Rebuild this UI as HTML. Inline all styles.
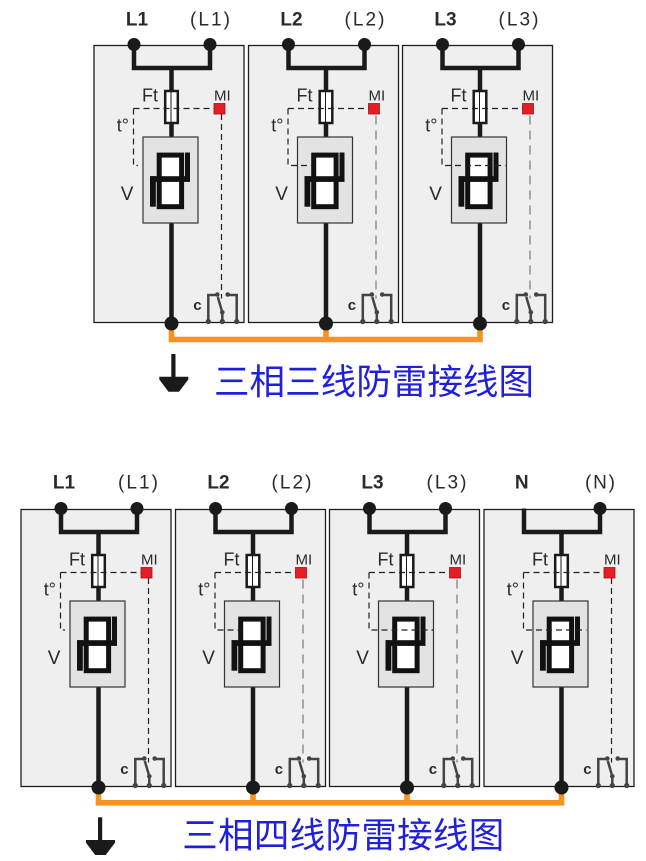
<!DOCTYPE html>
<html>
<head>
<meta charset="utf-8">
<style>
html,body{margin:0;padding:0;background:#ffffff;}
svg{display:block;}
.lbl{font-family:"Liberation Sans",Arial,sans-serif;fill:#2a2a2a;}
.cjk{font-family:"Liberation Sans","Noto Sans CJK SC","WenQuanYi Zen Hei",sans-serif;fill:#1f1fdc;}
</style>
</head>
<body>
<svg width="646" height="861" viewBox="0 0 646 861" xmlns="http://www.w3.org/2000/svg">
<defs>
  <g id="body">
    <rect x="0" y="0" width="150" height="277" fill="#efefef" stroke="#1e1e1e" stroke-width="1.3"/>
    <!-- top bar -->
    <path d="M40,-1 V22.5 H116 V-1" fill="none" stroke="#1a1a1a" stroke-width="4.5" stroke-linejoin="miter"/>
    <!-- center wire -->
    <path d="M77.5,22.5 V91.5 M77.5,177.5 V278" fill="none" stroke="#1a1a1a" stroke-width="4.5"/>
    <!-- fuse -->
    <rect x="71.2" y="45.5" width="12.6" height="32" fill="#ffffff" stroke="#1a1a1a" stroke-width="2.5"/>
    <line x1="77" y1="46" x2="77" y2="77" stroke="#1a1a1a" stroke-width="1"/>
    <!-- varistor -->
    <rect x="49" y="91.5" width="55" height="86" fill="#e3e3e3" stroke="#333" stroke-width="1.2"/>
    <rect x="65.2" y="109.6" width="22.4" height="51.6" fill="#ffffff" stroke="#111" stroke-width="5"/>
    <rect x="56" y="130.7" width="40" height="5.7" fill="#111"/>
    <rect x="91" y="107" width="5" height="29" fill="#111"/>
    <rect x="56" y="130.7" width="5.8" height="30.5" fill="#111"/>
    <!-- bottom dot -->
    <circle cx="77.5" cy="278" r="7" fill="#1a1a1a"/>
    <!-- MI square -->
    <rect x="120" y="58" width="11" height="10.5" fill="#e31e24" stroke="#a31418" stroke-width="0.8"/>
    <!-- switch -->
    <path d="M114.3,276 V249.5 H121.5 M142.7,276 V249.5 H135.5 M128.3,276 V266.8 L123.8,251.5" fill="none" stroke="#444" stroke-width="2.5"/>
    <circle cx="123.3" cy="249" r="2.3" fill="#444"/>
    <circle cx="133.7" cy="249" r="2.3" fill="#444"/>
    <circle cx="128.3" cy="266.8" r="2.3" fill="#444"/>
    <circle cx="114.3" cy="276" r="2.6" fill="#444"/>
    <circle cx="128.3" cy="276" r="2.6" fill="#444"/>
    <circle cx="142.7" cy="276" r="2.6" fill="#444"/>
    <!-- right dot -->
    <circle cx="116" cy="-1" r="6.5" fill="#1a1a1a"/>
  </g>
</defs>

<!-- ORANGE LINES (behind) -->
<path d="M171.5,325 V339.5 H480 V325 M326,325 V339.5" fill="none" stroke="#f7941d" stroke-width="5.6" stroke-linejoin="miter"/>
<path d="M98.5,789 V802.8 H561.5 V789 M253,789 V802.8 M407,789 V802.8" fill="none" stroke="#f7941d" stroke-width="5.6" stroke-linejoin="miter"/>

<!-- ===== TOP ROW ===== -->
<!-- module 1 -->
<g transform="translate(94,45.5)">
  <use href="#body"/>
  <circle cx="40" cy="-1" r="6.5" fill="#1a1a1a"/>
  <path d="M39.5,63 H120 M39.5,63 V120 H44" fill="none" stroke="#222" stroke-width="1.2" stroke-dasharray="6 4"/>
  <path d="M127.5,68.5 V253" fill="none" stroke="#222" stroke-width="1.2" stroke-dasharray="6 4"/>
  <text class="lbl" x="48" y="56" font-size="18">Ft</text>
  <text class="lbl" x="120" y="55" font-size="15">MI</text>
  <text class="lbl" x="22.7" y="86" font-size="18">t°</text>
  <text class="lbl" x="26.7" y="154.5" font-size="19">V</text>
  <text class="lbl" x="99.3" y="264.5" font-size="15" font-weight="bold">c</text>
</g>
<!-- module 2 -->
<g transform="translate(248.5,45.5)">
  <use href="#body"/>
  <circle cx="40" cy="-1" r="6.5" fill="#1a1a1a"/>
  <path d="M39.5,63 H120 M39.5,63 V120 H64" fill="none" stroke="#222" stroke-width="1.2" stroke-dasharray="6 4"/>
  <path d="M127.5,70 V253" fill="none" stroke="#a0a0a0" stroke-width="1.8" stroke-dasharray="9 6"/>
  <text class="lbl" x="48" y="56" font-size="18">Ft</text>
  <text class="lbl" x="120" y="55" font-size="15">MI</text>
  <text class="lbl" x="22.7" y="86" font-size="18">t°</text>
  <text class="lbl" x="26.7" y="154.5" font-size="19">V</text>
  <text class="lbl" x="99.3" y="264.5" font-size="15" font-weight="bold">c</text>
</g>
<!-- module 3 -->
<g transform="translate(402.5,45.5)">
  <use href="#body"/>
  <circle cx="40" cy="-1" r="6.5" fill="#1a1a1a"/>
  <path d="M39.5,63 H120 M39.5,63 V120 H103" fill="none" stroke="#222" stroke-width="1.2" stroke-dasharray="6 4"/>
  <path d="M127.5,70 V253" fill="none" stroke="#a0a0a0" stroke-width="1.8" stroke-dasharray="9 6"/>
  <text class="lbl" x="48" y="56" font-size="18">Ft</text>
  <text class="lbl" x="120" y="55" font-size="15">MI</text>
  <text class="lbl" x="22.7" y="86" font-size="18">t°</text>
  <text class="lbl" x="26.7" y="154.5" font-size="19">V</text>
  <text class="lbl" x="99.3" y="264.5" font-size="15" font-weight="bold">c</text>
</g>

<!-- top labels -->
<text class="lbl" x="137" y="25.3" font-size="19" font-weight="bold" text-anchor="middle" fill="#222">L1</text>
<text class="lbl" x="190" y="25.3" font-size="19" textLength="40" lengthAdjust="spacing">(L1)</text>
<text class="lbl" x="291.5" y="25.3" font-size="19" font-weight="bold" text-anchor="middle">L2</text>
<text class="lbl" x="344.5" y="25.3" font-size="19" textLength="40" lengthAdjust="spacing">(L2)</text>
<text class="lbl" x="445.5" y="25.3" font-size="19" font-weight="bold" text-anchor="middle">L3</text>
<text class="lbl" x="498.5" y="25.3" font-size="19" textLength="40" lengthAdjust="spacing">(L3)</text>

<!-- top ground -->
<rect x="171.3" y="354" width="4.2" height="23" fill="#1a1a1a"/>
<polygon points="159.3,376.7 188.3,376.7 188.3,379.5 179,391.7 168.5,391.7 159.3,379.5" fill="#1a1a1a"/>
<text class="cjk" x="214" y="394" font-size="35.5" textLength="320" lengthAdjust="spacing">三相三线防雷接线图</text>

<!-- ===== BOTTOM ROW ===== -->
<g transform="translate(21,509.5)">
  <use href="#body"/>
  <circle cx="40" cy="-1" r="6.5" fill="#1a1a1a"/>
  <path d="M39.5,63 H120 M39.5,63 V120.5 H44" fill="none" stroke="#222" stroke-width="1.2" stroke-dasharray="6 4"/>
  <path d="M127.5,68.5 V253" fill="none" stroke="#222" stroke-width="1.2" stroke-dasharray="6 4"/>
  <text class="lbl" x="48" y="56" font-size="18">Ft</text>
  <text class="lbl" x="120" y="55" font-size="15">MI</text>
  <text class="lbl" x="22.7" y="86" font-size="18">t°</text>
  <text class="lbl" x="26.7" y="154.5" font-size="19">V</text>
  <text class="lbl" x="99.3" y="264.5" font-size="15" font-weight="bold">c</text>
</g>
<g transform="translate(175.5,509.5)">
  <use href="#body"/>
  <circle cx="40" cy="-1" r="6.5" fill="#1a1a1a"/>
  <path d="M39.5,63 H120 M39.5,63 V120.5 H66" fill="none" stroke="#222" stroke-width="1.2" stroke-dasharray="6 4"/>
  <path d="M127.5,70 V253" fill="none" stroke="#a0a0a0" stroke-width="1.8" stroke-dasharray="9 6"/>
  <text class="lbl" x="48" y="56" font-size="18">Ft</text>
  <text class="lbl" x="120" y="55" font-size="15">MI</text>
  <text class="lbl" x="22.7" y="86" font-size="18">t°</text>
  <text class="lbl" x="26.7" y="154.5" font-size="19">V</text>
  <text class="lbl" x="99.3" y="264.5" font-size="15" font-weight="bold">c</text>
</g>
<g transform="translate(329.5,509.5)">
  <use href="#body"/>
  <circle cx="40" cy="-1" r="6.5" fill="#1a1a1a"/>
  <path d="M39.5,63 H120 M39.5,63 V120.5 H104" fill="none" stroke="#222" stroke-width="1.2" stroke-dasharray="6 4"/>
  <path d="M127.5,70 V253" fill="none" stroke="#a0a0a0" stroke-width="1.8" stroke-dasharray="9 6"/>
  <text class="lbl" x="48" y="56" font-size="18">Ft</text>
  <text class="lbl" x="120" y="55" font-size="15">MI</text>
  <text class="lbl" x="22.7" y="86" font-size="18">t°</text>
  <text class="lbl" x="26.7" y="154.5" font-size="19">V</text>
  <text class="lbl" x="99.3" y="264.5" font-size="15" font-weight="bold">c</text>
</g>
<g transform="translate(484,509.5)">
  <use href="#body"/>
  <path d="M39.5,63 H120 M39.5,63 V120.5 H102.5" fill="none" stroke="#222" stroke-width="1.2" stroke-dasharray="6 4"/>
  <path d="M127.5,68.5 V253" fill="none" stroke="#222" stroke-width="1.2" stroke-dasharray="6 4"/>
  <text class="lbl" x="48" y="56" font-size="18">Ft</text>
  <text class="lbl" x="120" y="55" font-size="15">MI</text>
  <text class="lbl" x="22.7" y="86" font-size="18">t°</text>
  <text class="lbl" x="26.7" y="154.5" font-size="19">V</text>
  <text class="lbl" x="99.3" y="264.5" font-size="15" font-weight="bold">c</text>
</g>

<!-- bottom labels -->
<text class="lbl" x="64" y="488.5" font-size="19" font-weight="bold" text-anchor="middle" fill="#222">L1</text>
<text class="lbl" x="118" y="488.5" font-size="19" textLength="40" lengthAdjust="spacing">(L1)</text>
<text class="lbl" x="218.5" y="488.5" font-size="19" font-weight="bold" text-anchor="middle">L2</text>
<text class="lbl" x="271.5" y="488.5" font-size="19" textLength="40" lengthAdjust="spacing">(L2)</text>
<text class="lbl" x="372.5" y="488.5" font-size="19" font-weight="bold" text-anchor="middle">L3</text>
<text class="lbl" x="426.5" y="488.5" font-size="19" textLength="40" lengthAdjust="spacing">(L3)</text>
<text class="lbl" x="521.7" y="488.5" font-size="19" font-weight="bold" text-anchor="middle">N</text>
<text class="lbl" x="585" y="488.5" font-size="19" textLength="30" lengthAdjust="spacing">(N)</text>

<!-- bottom ground -->
<rect x="98" y="817.3" width="4.2" height="23" fill="#1a1a1a"/>
<polygon points="86,840 115,840 115,842.8 105.7,855 95.2,855 86,842.8" fill="#1a1a1a"/>
<text class="cjk" x="182.3" y="847.5" font-size="35.5" textLength="322" lengthAdjust="spacing">三相四线防雷接线图</text>
</svg>
</body>
</html>
